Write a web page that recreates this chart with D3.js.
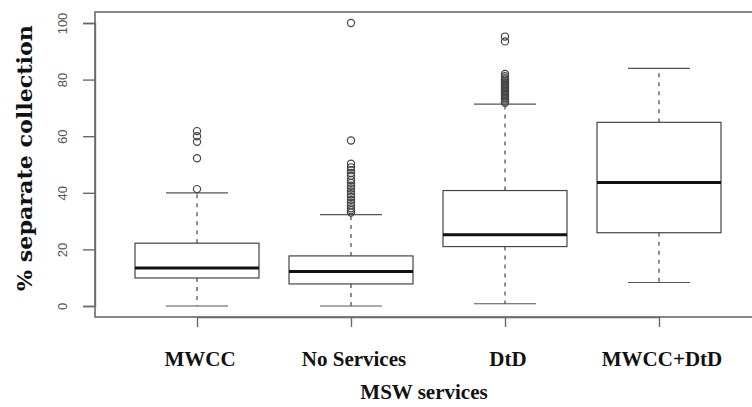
<!DOCTYPE html>
<html>
<head>
<meta charset="utf-8">
<script src="https://cdn.jsdelivr.net/npm/d3@7"></script>
<style>
  html, body { margin: 0; padding: 0; background: #fff; }
  svg { display: block; }
</style>
</head>
<body>
<svg id="chart" width="752" height="407"></svg>
<script>
// ---- data ----
const categories = ["MWCC", "No Services", "DtD", "MWCC+DtD"];
const whiskerLow  = [0, 0, 0.8, 8.3];
const q1          = [9.9, 7.8, 21, 25.9];
const median      = [13.4, 12.2, 25.2, 43.6];
const q3          = [22.2, 17.7, 40.8, 64.9];
const whiskerHigh = [40, 32.3, 71.3, 84];
const outliers = [
  [41.3, 52.2, 58, 60, 61.8],
  [33, 33.8, 34.5, 35.5, 36.5, 37.5, 38.5, 39.5, 40.5, 41.5, 42.5, 43.5, 44.5, 46, 47, 48, 49, 50.3, 58.5, 100],
  [71.8, 72.3, 73, 73.5, 74, 74.5, 75, 75.5, 76, 76.5, 77, 77.5, 78, 78.5, 79, 79.5, 80, 80.5, 81.2, 82, 93.5, 95.2],
  []
];
const yTicks = [0, 20, 40, 60, 80, 100];
const yTitle = "% separate collection";
const xTitle = "MSW services";

// ---- layout ----
const svg = d3.select("#chart");
const frame = { left: 95, top: 12, right: 760, bottom: 317 };
const y = d3.scaleLinear().domain([0, 100]).range([306, 23]);
const x = d3.scalePoint().domain(categories).range([197, 659]);
const boxHalf = 62, capHalf = 31;

// frame
svg.append("rect")
  .attr("x", frame.left).attr("y", frame.top)
  .attr("width", frame.right - frame.left).attr("height", frame.bottom - frame.top)
  .attr("fill", "none").attr("stroke", "#6a6a6a").attr("stroke-width", 1.6);

// y axis
const yAxis = d3.axisLeft(y).tickValues(yTicks).tickSize(12).tickPadding(0).tickFormat(d3.format("d"));
const gy = svg.append("g").attr("transform", `translate(${frame.left},0)`).call(yAxis);
gy.select(".domain").attr("stroke", "#6a6a6a").attr("stroke-width", 1.4);
gy.selectAll(".tick line").attr("stroke", "#6a6a6a").attr("stroke-width", 1.4);
gy.selectAll(".tick text")
  .attr("transform", "rotate(-90)")
  .attr("x", 0).attr("y", -33).attr("dy", "0.35em")
  .attr("text-anchor", "middle")
  .attr("fill", "#555")
  .style("font-family", "'Liberation Sans', Arial, sans-serif")
  .style("font-size", "13px");

// x axis
const xAxis = d3.axisBottom(x).tickSize(10).tickSizeOuter(0).tickFormat(() => "");
const gx = svg.append("g").attr("transform", `translate(0,${frame.bottom})`).call(xAxis);
gx.select(".domain").attr("stroke", "#6a6a6a").attr("stroke-width", 1.6);
gx.selectAll(".tick line").attr("stroke", "#6a6a6a").attr("stroke-width", 1.4);

// category labels
svg.append("g").selectAll("text").data(categories).join("text")
  .attr("x", d => x(d) + 3)
  .attr("y", 366)
  .attr("text-anchor", "middle")
  .attr("fill", "#111")
  .style("font-family", "'Liberation Serif', 'Times New Roman', serif")
  .style("font-weight", "bold")
  .style("font-size", "21px")
  .text(d => d);

// titles
svg.append("text")
  .attr("x", 424).attr("y", 399)
  .attr("text-anchor", "middle")
  .attr("fill", "#111")
  .style("font-family", "'Liberation Serif', 'Times New Roman', serif")
  .style("font-weight", "bold")
  .style("font-size", "21px")
  .text(xTitle);

svg.append("text")
  .attr("transform", "translate(32,158) rotate(-90)")
  .attr("text-anchor", "middle")
  .attr("fill", "#111")
  .attr("textLength", 266)
  .attr("lengthAdjust", "spacingAndGlyphs")
  .style("font-family", "'DejaVu Serif', serif")
  .style("font-weight", "bold")
  .style("font-size", "21px")
  .text(yTitle);

// boxes
const boxes = svg.append("g");
categories.forEach((c, i) => {
  const cx = x(c);
  const g = boxes.append("g");
  // whiskers (dashed)
  g.append("line").attr("x1", cx).attr("x2", cx).attr("y1", y(q3[i])).attr("y2", y(whiskerHigh[i]))
    .attr("stroke", "#444").attr("stroke-width", 1.2).attr("stroke-dasharray", "4,5");
  g.append("line").attr("x1", cx).attr("x2", cx).attr("y1", y(q1[i])).attr("y2", y(whiskerLow[i]))
    .attr("stroke", "#444").attr("stroke-width", 1.2).attr("stroke-dasharray", "4,5");
  // caps
  [whiskerLow[i], whiskerHigh[i]].forEach(v => {
    g.append("line").attr("x1", cx - capHalf).attr("x2", cx + capHalf).attr("y1", y(v)).attr("y2", y(v))
      .attr("stroke", "#555").attr("stroke-width", 1.2);
  });
  // box
  g.append("rect")
    .attr("x", cx - boxHalf).attr("width", 2 * boxHalf)
    .attr("y", y(q3[i])).attr("height", y(q1[i]) - y(q3[i]))
    .attr("fill", "#fff").attr("stroke", "#444").attr("stroke-width", 1.2);
  // median
  g.append("line").attr("x1", cx - boxHalf).attr("x2", cx + boxHalf)
    .attr("y1", y(median[i])).attr("y2", y(median[i]))
    .attr("stroke", "#111").attr("stroke-width", 3);
  // outliers
  g.selectAll("circle").data(outliers[i]).join("circle")
    .attr("cx", cx).attr("cy", d => y(d)).attr("r", 3.6)
    .attr("fill", "none").attr("stroke", "#444").attr("stroke-width", 1.2);
});
</script>
</body>
</html>
